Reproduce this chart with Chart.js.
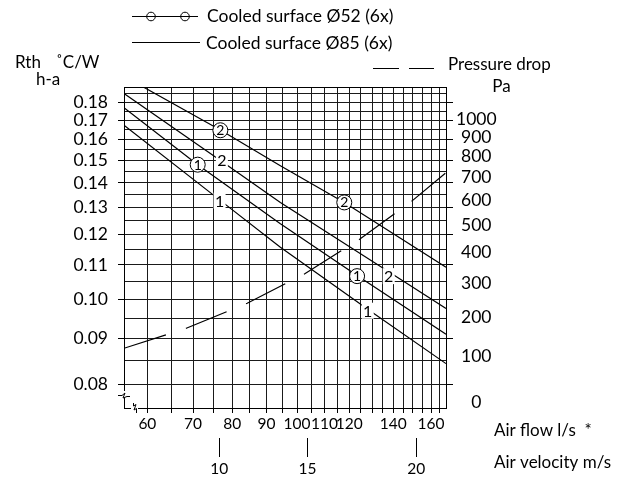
<!DOCTYPE html>
<html>
<head>
<meta charset="utf-8">
<script src="https://cdn.jsdelivr.net/npm/chart.js@4.4.0/dist/chart.umd.min.js"></script>
<style>
body { margin: 0; background: #fff; }
</style>
</head>
<body>
<canvas id="myChart" width="629" height="477"></canvas>
<script>
// curves: air flow l/s against Rth h-a
var flowA = [58.9, 76.8, 94.4, 117.9, 168.7];   // Ø52 curve 2
var rthA = [0.1895, 0.1648, 0.1475, 0.1320, 0.1093];
var flowB = [55.5, 77.2, 94.4, 137.6, 168.7];   // Ø85 curve 2
var rthB = [0.1851, 0.1494, 0.1320, 0.1080, 0.0975];
var flowC = [55.5, 71.1, 94.4, 123.3, 168.7];   // Ø52 curve 1
var rthC = [0.1768, 0.1480, 0.1239, 0.1068, 0.0910];
var flowD = [55.5, 76.6, 94.4, 128.0, 168.7];   // Ø85 curve 1
var rthD = [0.1673, 0.1330, 0.1157, 0.0973, 0.0843];

// pressure drop (Pa) against air flow
var flowP = [55.5, 68.4, 84.2, 102.6, 124.4, 149.8, 168.7];
var pressP = [119.5, 170.3, 239.4, 328.7, 447.6, 599.2, 723.1];

// curve labels
var circleFlow = [76.8, 117.9, 71.1, 123.3];
var circleRth = [0.1647, 0.1320, 0.1480, 0.1066];
var circleText = ['2', '2', '1', '1'];
var plainFlow = [77.2, 137.8, 76.6, 128.0];
var plainRth = [0.1500, 0.1066, 0.1327, 0.0969];
var plainText = ['2', '2', '1', '1'];

// axes
var rthTicks = [0.08, 0.09, 0.10, 0.11, 0.12, 0.13, 0.14, 0.15, 0.16, 0.17, 0.18];
var rthMinor = [0.085, 0.095, 0.105, 0.115, 0.125, 0.135, 0.145, 0.155, 0.165, 0.175, 0.185];
var flowGrid = [60, 65, 70, 75, 80, 85, 90, 95, 100, 105, 110, 115, 120, 125, 130, 135, 140, 145, 150, 155, 160, 165];
var flowLabels = [60, 70, 80, 90, 100, 110, 120, 140, 160];
var pressTicks = [0, 100, 200, 300, 400, 500, 600, 700, 800, 900, 1000];
var velocityTicks = [10, 15, 20];
var velocityAt = [76.5, 103.7, 151.9];

var fontFam = 'Lato';
var gridColor = '#1a1a1a';
Chart.defaults.font.family = fontFam;
Chart.defaults.color = '#000';

// log scale with an offset, the chart paper is not a plain log grid
class ShiftLogScale extends Chart.LinearScale {
  tf(v) { return Math.log(v + (this.options.shift || 0)); }
  getPixelForValue(v) {
    if (v === null || v === undefined) return NaN;
    var a = this.tf(this.min), b = this.tf(this.max);
    return this.getPixelForDecimal((this.tf(v) - a) / (b - a));
  }
  getValueForPixel(p) {
    var a = this.tf(this.min), b = this.tf(this.max);
    return Math.exp(a + this.getDecimalForPixel(p) * (b - a)) - (this.options.shift || 0);
  }
}
ShiftLogScale.id = 'shiftlog';
ShiftLogScale.defaults = Chart.LinearScale.defaults;
Chart.register(ShiftLogScale);

function setTicks(vals) {
  return function (s) { s.ticks = vals.map(function (v) { return { value: v }; }); };
}
function pts(xs, ys) {
  return xs.map(function (x, i) { return { x: x, y: ys[i] }; });
}

var allRth = rthTicks.concat(rthMinor).sort(function (a, b) { return a - b; });

var extras = {
  id: 'extras',
  afterDatasetsDraw: function (chart) {
    var c = chart.ctx, xs = chart.scales.x, ys = chart.scales.y;
    c.save();
    c.textAlign = 'center';
    c.textBaseline = 'middle';
    // plain numbers on the Ø85 curves
    c.font = '16px ' + fontFam;
    plainFlow.forEach(function (f, i) {
      var px = xs.getPixelForValue(f), py = ys.getPixelForValue(plainRth[i]);
      c.fillStyle = '#fff';
      c.fillRect(px - 6, py - 8, 12, 16);
      c.fillStyle = '#000';
      c.fillText(plainText[i], px, py + 1);
    });
    // circled numbers on the Ø52 curves
    c.font = '14px ' + fontFam;
    circleFlow.forEach(function (f, i) {
      var px = xs.getPixelForValue(f), py = ys.getPixelForValue(circleRth[i]);
      c.beginPath();
      c.arc(px, py, 7.5, 0, Math.PI * 2);
      c.fillStyle = '#fff';
      c.fill();
      c.lineWidth = 1;
      c.strokeStyle = '#000';
      c.stroke();
      c.fillStyle = '#000';
      c.fillText(circleText[i], px, py + 0.5);
    });
    c.restore();
  },
  afterDraw: function (chart) {
    var c = chart.ctx, a = chart.chartArea;
    c.save();
    c.strokeStyle = '#000';
    c.fillStyle = '#000';
    c.lineWidth = 1;
    // top frame line
    c.beginPath();
    c.moveTo(a.left, a.top + 0.5);
    c.lineTo(a.right, a.top + 0.5);
    c.stroke();

    // legend
    c.beginPath();
    c.moveTo(132, 16.5); c.lineTo(198, 16.5);
    c.moveTo(132, 42.5); c.lineTo(200, 42.5);
    c.stroke();
    [151, 185].forEach(function (x) {
      c.beginPath();
      c.arc(x, 16.5, 4.3, 0, Math.PI * 2);
      c.stroke();
    });
    c.beginPath();
    c.moveTo(373, 68.5); c.lineTo(399, 68.5);
    c.moveTo(409, 68.5); c.lineTo(434, 68.5);
    c.stroke();

    c.font = '17.5px ' + fontFam;
    c.textBaseline = 'middle';
    c.textAlign = 'left';
    c.fillText('Cooled surface Ø52 (6x)', 207, 16.5);
    c.fillText('Cooled surface Ø85 (6x)', 206, 43.5);
    c.font = '17px ' + fontFam;
    c.fillText('Pressure drop', 448, 65);
    c.fillText('Air flow l/s  *', 494, 431);
    c.fillText('Air velocity m/s', 494, 463);
    c.textAlign = 'center';
    c.fillText('Pa', 501.5, 86.5);
    c.textAlign = 'left';
    c.textBaseline = 'alphabetic';
    c.fillText('Rth', 15, 68);
    c.fillText('˚C/W', 56, 68);
    c.fillText('h-a', 36, 85);

    // axis break marks
    c.fillStyle = '#fff';
    c.fillRect(121, 391, 6, 7);
    c.fillRect(131, 405, 7, 6);
    c.beginPath();
    c.moveTo(118, 395.5); c.lineTo(122, 395.5); c.lineTo(125, 393);
    c.lineTo(123, 398); c.lineTo(127, 396.5); c.lineTo(130, 396.5);
    c.moveTo(124.5, 398); c.lineTo(124.5, 408);
    c.moveTo(133.5, 403); c.lineTo(133.5, 406); c.lineTo(136, 404.5);
    c.lineTo(134, 410); c.lineTo(136.5, 408.5); c.lineTo(136.5, 413);
    c.stroke();
    c.restore();
  }
};

var lineStyle = { borderColor: '#000', borderWidth: 1.2, pointRadius: 0, tension: 0, fill: false, xAxisID: 'x', yAxisID: 'y' };

var ctx = document.getElementById('myChart').getContext('2d');
var myChart = new Chart(ctx, {
  type: 'line',
  data: {
    datasets: [
      Object.assign({ label: 'Ø52 curve 2', data: pts(flowA, rthA) }, lineStyle),
      Object.assign({ label: 'Ø85 curve 2', data: pts(flowB, rthB) }, lineStyle),
      Object.assign({ label: 'Ø52 curve 1', data: pts(flowC, rthC) }, lineStyle),
      Object.assign({ label: 'Ø85 curve 1', data: pts(flowD, rthD) }, lineStyle),
      {
        label: 'Pressure drop', data: pts(flowP, pressP), borderColor: '#000', borderWidth: 1.2,
        borderDash: [44, 21], pointRadius: 0, tension: 0, fill: false, xAxisID: 'x', yAxisID: 'yP'
      }
    ]
  },
  options: {
    responsive: false,
    animation: false,
    layout: { padding: { top: 87, left: 0, right: 0, bottom: 0 } },
    plugins: { legend: { display: false }, tooltip: { enabled: false } },
    scales: {
      x: {
        type: 'shiftlog', shift: -5, min: 55.5, max: 168.7, bounds: 'data', position: 'bottom', weight: 0,
        afterBuildTicks: setTicks(flowGrid),
        afterFit: function (s) { s.height = 30; },
        grid: { color: gridColor, lineWidth: 1, tickLength: 5, tickColor: '#000' },
        border: { display: true, color: '#000', width: 1 },
        ticks: {
          autoSkip: false, maxRotation: 0, padding: 2, font: { size: 15.5 }, color: '#000',
          callback: function (v) { return flowLabels.indexOf(v) >= 0 ? String(v) : ''; }
        }
      },
      xV: {
        type: 'shiftlog', shift: -5, min: 55.5, max: 168.7, bounds: 'data', position: 'bottom', weight: 1,
        afterBuildTicks: setTicks(velocityAt),
        afterFit: function (s) { s.height = 39; },
        grid: { drawOnChartArea: false, tickLength: 19, tickColor: '#000', lineWidth: 1 },
        border: { display: false },
        ticks: {
          autoSkip: false, maxRotation: 0, padding: 3, font: { size: 15.5 }, color: '#000',
          callback: function (v, i) { return String(velocityTicks[i]); }
        }
      },
      y: {
        type: 'shiftlog', shift: -0.027, min: 0.0755, max: 0.189, bounds: 'data', position: 'left',
        afterBuildTicks: setTicks(allRth),
        afterFit: function (s) { s.width = 124; },
        grid: {
          color: gridColor, lineWidth: 1, tickLength: 6,
          tickColor: function (cx) { return cx.tick && rthTicks.indexOf(cx.tick.value) >= 0 ? '#000' : 'rgba(0,0,0,0)'; }
        },
        border: { display: true, color: '#000', width: 1 },
        ticks: {
          autoSkip: false, padding: 10, font: { size: 17.5 }, color: '#000',
          callback: function (v) { return rthTicks.indexOf(v) >= 0 ? v.toFixed(2) : ''; }
        }
      },
      yR: {
        type: 'shiftlog', shift: -0.027, min: 0.0755, max: 0.189, bounds: 'data', position: 'right', weight: 0,
        afterBuildTicks: setTicks(rthTicks),
        afterFit: function (s) { s.width = 7; },
        grid: { drawOnChartArea: false, tickLength: 7, tickColor: '#000' },
        border: { display: true, color: '#000', width: 1 },
        ticks: { display: false }
      },
      yP: {
        type: 'shiftlog', shift: 550, min: -12, max: 1192, bounds: 'data', position: 'right', weight: 1,
        afterBuildTicks: setTicks(pressTicks),
        afterFit: function (s) { s.width = 176; },
        grid: { drawOnChartArea: false, drawTicks: false },
        border: { display: false },
        ticks: {
          autoSkip: false, padding: 3, crossAlign: 'center', font: { size: 17.5 }, color: '#000',
          callback: function (v) { return String(v); }
        }
      }
    }
  },
  plugins: [extras]
});
</script>
</body>
</html>
